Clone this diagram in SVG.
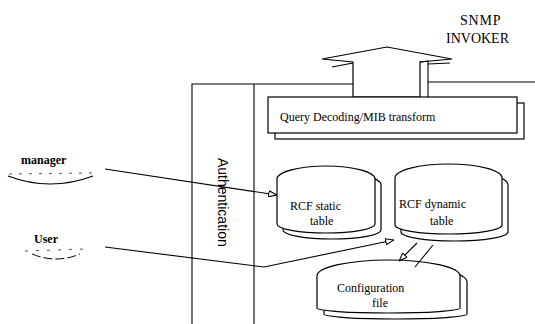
<svg xmlns="http://www.w3.org/2000/svg" width="535" height="324" viewBox="0 0 535 324">
  <style>
    .ln { fill: none; stroke: #000; stroke-width: 1.1; }
    .box { fill: #fff; stroke: #000; stroke-width: 1.2; }
    .serif { font-family: "Liberation Serif", "Times New Roman", serif; font-size: 12px; fill: #000; }
    .title { font-family: "Liberation Serif", "Times New Roman", serif; font-size: 14px; fill: #000; }
    .sans { font-family: "Liberation Sans", Arial, sans-serif; font-size: 14px; fill: #000; }
    .actor { font-family: "Liberation Serif", "Times New Roman", serif; font-size: 12px; font-weight: bold; fill: #000; }
  </style>
  <defs>
    <marker id="open-tri" viewBox="0 0 10 8" refX="10" refY="4" markerWidth="9" markerHeight="7" markerUnits="userSpaceOnUse" orient="auto">
      <path d="M0.5,0.5 L9.5,4 L0.5,7.5 Z" fill="#fff" stroke="#000" stroke-width="1.2"/>
    </marker>
  </defs>

  <rect width="535" height="324" fill="#fff"/>

  <!-- authentication frame -->
  <g id="auth-frame">
    <path class="ln" d="M192,324 L192,84 L353,84"/>
    <path class="ln" d="M254,84 L254,324"/>
    <path class="ln" d="M428,82 L535,82"/>
    <text class="sans" transform="translate(218,158) rotate(90)">Authentication</text>
  </g>

  <!-- upward block arrow to the SNMP invoker -->
  <g id="invoker-arrow">
    <polygon class="box" points="353,97 353,62 322,59 387,47 452,59 420,62 420,97"/>
    <path class="ln" d="M332,67 L353,63"/>
    <path class="ln" d="M420,62 L428,61 L428,97"/>
    <path class="ln" d="M428,64 L450,63"/>
  </g>

  <g id="snmp-invoker">
    <text class="title" x="460" y="25" style="letter-spacing:0.8px">SNMP</text>
    <text class="title" x="446" y="43">INVOKER</text>
  </g>

  <!-- query decoding box -->
  <g id="query-decoding">
    <rect class="box" x="275" y="103" width="249" height="36"/>
    <rect class="box" x="268" y="97" width="249" height="36"/>
    <text class="serif" x="280" y="121">Query Decoding/MIB transform</text>
  </g>

  <!-- data stores -->
  <g id="rcf-static">
    <path class="box" transform="translate(6,6)" d="M277,179 A49,13 0 0 1 375,179 L375,224 A49,9 0 0 1 277,224 Z"/>
    <path class="box" d="M277,179 A49,13 0 0 1 375,179 L375,224 A49,9 0 0 1 277,224 Z"/>
    <text class="serif" x="290" y="210">RCF static</text>
    <text class="serif" x="310" y="225">table</text>
  </g>

  <g id="rcf-dynamic">
    <path class="box" transform="translate(6,7)" d="M395,178 A53.5,14 0 0 1 502,178 L502,225 A53.5,9 0 0 1 395,225 Z"/>
    <path class="box" d="M395,178 A53.5,14 0 0 1 502,178 L502,225 A53.5,9 0 0 1 395,225 Z"/>
    <text class="serif" x="399" y="208">RCF dynamic</text>
    <text class="serif" x="430" y="225">table</text>
  </g>

  <g id="config-file">
    <path class="box" transform="translate(7,6)" d="M317,276 A71.5,16 0 0 1 460,276 L460,308 A71.5,5 0 0 1 317,308 Z"/>
    <path class="box" d="M317,276 A71.5,16 0 0 1 460,276 L460,308 A71.5,5 0 0 1 317,308 Z"/>
    <text class="serif" x="337" y="292">Configuration</text>
    <text class="serif" x="372" y="307">file</text>
  </g>

  <!-- actors -->
  <g id="manager">
    <text class="actor" x="21" y="164">manager</text>
    <path d="M9,174 L94,173" fill="none" stroke="#555" stroke-width="1" stroke-dasharray="3 7"/>
    <path class="ln" d="M8,176 Q50,192 93,176"/>
  </g>

  <g id="user">
    <text class="actor" x="34" y="243">User</text>
    <path d="M25,251 L85,249" fill="none" stroke="#555" stroke-width="1" stroke-dasharray="3 8"/>
    <path d="M32,254 Q56,264 80,254" fill="none" stroke="#000" stroke-width="1" stroke-dasharray="9 3"/>
  </g>

  <!-- connectors -->
  <g id="connectors">
    <path class="ln" d="M105,169 L277,195" marker-end="url(#open-tri)"/>
    <path class="ln" d="M105,247 L264,267 L394,240" marker-end="url(#open-tri)"/>
    <path class="ln" d="M417,243 L399,261" marker-end="url(#open-tri)"/>
    <path class="ln" d="M433,245 L415,267"/>
  </g>
</svg>
